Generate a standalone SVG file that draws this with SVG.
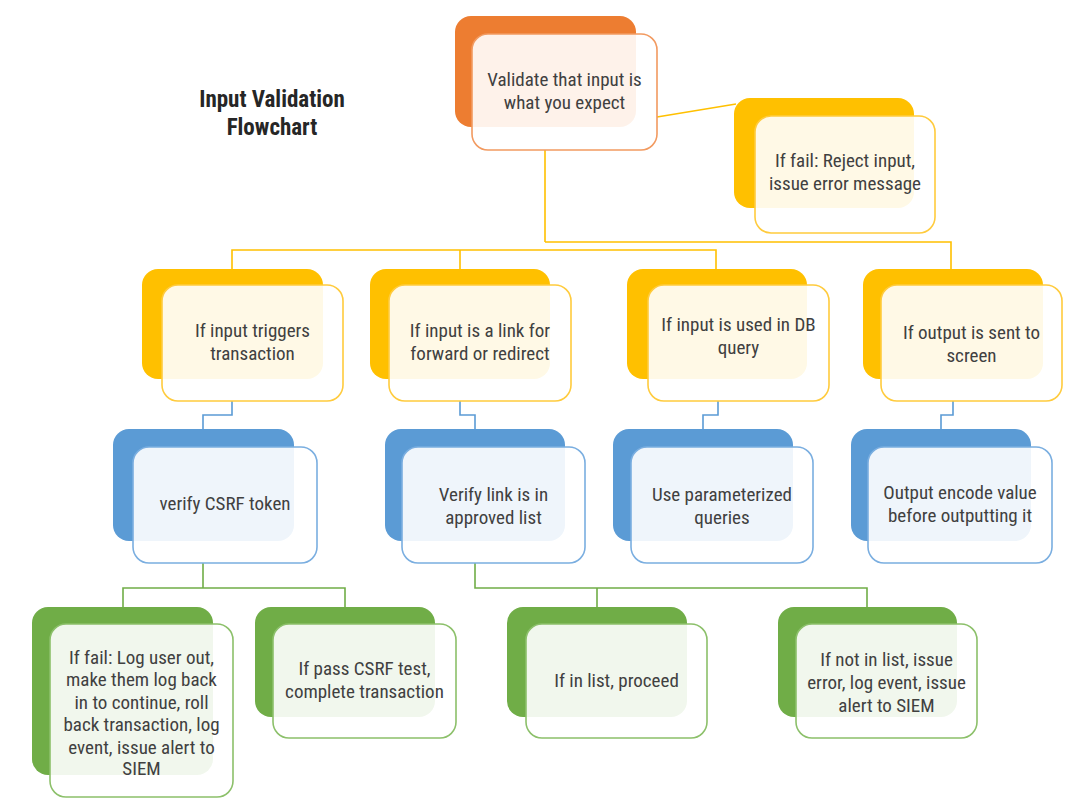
<svg xmlns="http://www.w3.org/2000/svg" width="1087" height="808" viewBox="0 0 1087 808">
<style>
text{font-family:"Liberation Sans Narrow","Roboto Condensed","DejaVu Sans Condensed",sans-serif;font-size:19px;fill:#404040;text-anchor:middle}
.title{font-weight:bold;font-size:23px;fill:#262626}
.fr{fill:#fff;fill-opacity:0.9;stroke-width:1.6}
.o .bk{fill:#ed7d31}.o .fr{stroke:#f29a60}
.y .bk{fill:#ffc000}.y .fr{stroke:#ffcb3d}
.b .bk{fill:#5b9bd5}.b .fr{stroke:#7aaee0}
.g .bk{fill:#70ad47}.g .fr{stroke:#8cc06a}
.cy{stroke:#ffc000;fill:none;stroke-width:1.6}
.cb{stroke:#5b9bd5;fill:none;stroke-width:1.6}
.cg{stroke:#70ad47;fill:none;stroke-width:1.6}
</style>
<rect width="1087" height="808" fill="#fff"/>
<g id="connectors">
<path class="cy" d="M545 150V242M545 242H951V269M232 269V250H716V269M460 250V269M657 117L736 104"/>
<path class="cb" d="M232 401V415H203V429M460 401V415H475V429M718 401V415H703V429M953 401V415H941V429"/>
<path class="cg" d="M203 563V588M123 607V588H345V607M475 563V588H867V607M597 588V607"/>
</g>
<g id="title"><text class="title" x="272" y="107">Input Validation</text><text class="title" x="272" y="135">Flowchart</text></g>
<g id="n-validate" class="o"><rect class="bk" x="455" y="16" width="181" height="111" rx="16"/><rect class="fr" x="472" y="34" width="185" height="116" rx="16"/><text x="564.5" y="86">Validate that input is</text><text x="564.5" y="109">what you expect</text></g>
<g id="n-reject" class="y"><rect class="bk" x="734" y="98" width="180" height="110" rx="16"/><rect class="fr" x="755" y="116" width="180" height="117" rx="16"/><text x="845" y="167">If fail: Reject input,</text><text x="845" y="190">issue error message</text></g>
<g id="n-transaction" class="y"><rect class="bk" x="142" y="269" width="181" height="110" rx="16"/><rect class="fr" x="162" y="285" width="181" height="116" rx="16"/><text x="252.5" y="337">If input triggers</text><text x="252.5" y="360">transaction</text></g>
<g id="n-link" class="y"><rect class="bk" x="370" y="269" width="180" height="110" rx="16"/><rect class="fr" x="389" y="285" width="182" height="116" rx="16"/><text x="480" y="337">If input is a link for</text><text x="480" y="360">forward or redirect</text></g>
<g id="n-db" class="y"><rect class="bk" x="627" y="269" width="180" height="110" rx="16"/><rect class="fr" x="648" y="285" width="181" height="116" rx="16"/><text x="738.5" y="331">If input is used in DB</text><text x="738.5" y="354">query</text></g>
<g id="n-screen" class="y"><rect class="bk" x="863" y="269" width="180" height="110" rx="16"/><rect class="fr" x="881" y="285" width="181" height="116" rx="16"/><text x="971.5" y="339">If output is sent to</text><text x="971.5" y="362">screen</text></g>
<g id="n-csrf" class="b"><rect class="bk" x="113" y="429" width="181" height="112" rx="16"/><rect class="fr" x="133" y="447" width="184" height="116" rx="16"/><text x="225" y="510">verify CSRF token</text></g>
<g id="n-verifylink" class="b"><rect class="bk" x="385" y="429" width="180" height="112" rx="16"/><rect class="fr" x="402" y="447" width="183" height="116" rx="16"/><text x="493.5" y="501">Verify link is in</text><text x="493.5" y="524">approved list</text></g>
<g id="n-param" class="b"><rect class="bk" x="613" y="429" width="180" height="112" rx="16"/><rect class="fr" x="631" y="447" width="182" height="116" rx="16"/><text x="722" y="501">Use parameterized</text><text x="722" y="524">queries</text></g>
<g id="n-encode" class="b"><rect class="bk" x="851" y="429" width="180" height="112" rx="16"/><rect class="fr" x="868" y="447" width="184" height="116" rx="16"/><text x="960" y="499">Output encode value</text><text x="960" y="522">before outputting it</text></g>
<g id="n-csrffail" class="g"><rect class="bk" x="32" y="607" width="181" height="168" rx="16"/><rect class="fr" x="50" y="624" width="183" height="173" rx="16"/><text x="141.5" y="664">If fail: Log user out,</text><text x="141.5" y="686">make them log back</text><text x="141.5" y="709">in to continue, roll</text><text x="141.5" y="731">back transaction, log</text><text x="141.5" y="754">event, issue alert to</text><text x="141.5" y="775">SIEM</text></g>
<g id="n-csrfpass" class="g"><rect class="bk" x="255" y="607" width="180" height="110" rx="16"/><rect class="fr" x="273" y="624" width="183" height="114" rx="16"/><text x="364.5" y="675">If pass CSRF test,</text><text x="364.5" y="698">complete transaction</text></g>
<g id="n-inlist" class="g"><rect class="bk" x="507" y="607" width="180" height="110" rx="16"/><rect class="fr" x="526" y="624" width="181" height="114" rx="16"/><text x="616.5" y="687">If in list, proceed</text></g>
<g id="n-notinlist" class="g"><rect class="bk" x="778" y="607" width="179" height="110" rx="16"/><rect class="fr" x="796" y="624" width="181" height="114" rx="16"/><text x="886.5" y="666">If not in list, issue</text><text x="886.5" y="689">error, log event, issue</text><text x="886.5" y="712">alert to SIEM</text></g>
</svg>
